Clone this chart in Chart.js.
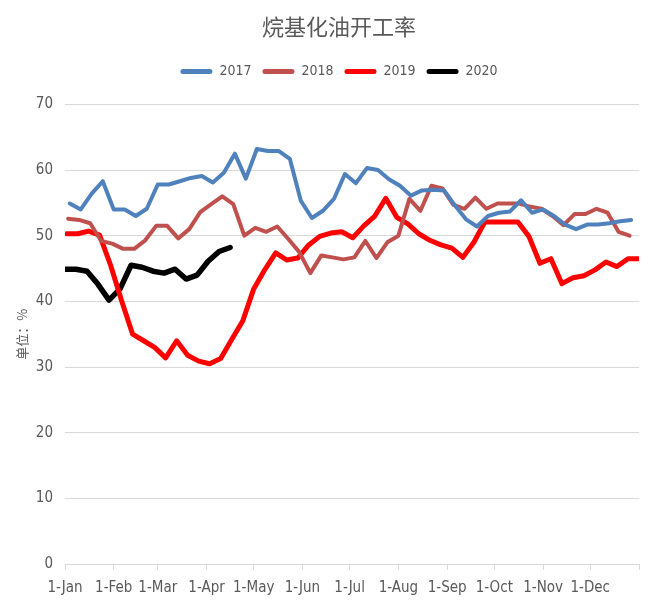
<!DOCTYPE html>
<html>
<head>
<meta charset="utf-8">
<script src="https://cdn.jsdelivr.net/npm/chart.js@4"></script>
<style>
  html, body { margin: 0; padding: 0; background: #fff; }
</style>
</head>
<body>
<canvas id="myChart" width="648" height="601"></canvas>
<script>
// month starts (day of year) and their labels
const monthDays = [0, 31, 59, 90, 120, 151, 181, 212, 243, 273, 304, 334, 365];
const monthLabels = ['1-Jan', '1-Feb', '1-Mar', '1-Apr', '1-May', '1-Jun', '1-Jul', '1-Aug', '1-Sep', '1-Oct', '1-Nov', '1-Dec', ''];

const years = ['2017', '2018', '2019', '2020'];
const firstDay = [3, 2, 1, 0]; // day of year of the first weekly reading

// weekly operating rate, %
const rate2017 = [54.9, 54.0, 56.4, 58.3, 54.0, 54.0, 53.0, 54.1, 57.8, 57.8, 58.3, 58.8, 59.1,
  58.1, 59.6, 62.5, 58.7, 63.2, 62.9, 62.9, 61.7, 55.3, 52.7, 53.8, 55.6, 59.4,
  58.0, 60.3, 60.0, 58.6, 57.6, 56.1, 56.9, 57.0, 56.9, 54.6, 52.5, 51.4,
  53.0, 53.5, 53.7, 55.4, 53.5, 54.0, 53.0, 51.7, 51.0, 51.7, 51.7, 51.9, 52.2, 52.4];
const rate2018 = [52.6, 52.4, 51.9, 49.2, 48.8, 48.0, 48.0, 49.3, 51.5, 51.5,
  49.6, 51.0, 53.6, 54.8, 56.0, 54.8, 50.0, 51.2, 50.6, 51.4,
  49.5, 47.5, 44.3, 47.0, 46.7, 46.4, 46.7, 49.2, 46.6, 49.0,
  50.0, 55.6, 53.8, 57.6, 57.2, 54.7, 54.1, 55.8, 54.1, 54.9,
  54.9, 54.9, 54.4, 54.1, 53.0, 51.6, 53.3, 53.3, 54.1, 53.5, 50.6, 50.0];
const rate2019 = [50.3, 50.3, 50.7, 50.1, 45.5, 40.1, 35.0, 34.0, 33.0, 31.4,
  34.0, 31.8, 30.9, 30.5, 31.3, 34.2, 37.0, 41.9, 44.8, 47.4,
  46.3, 46.6, 48.6, 49.9, 50.4, 50.6, 49.7, 51.5, 53.0, 55.7,
  52.8, 51.8, 50.3, 49.3, 48.6, 48.1, 46.7, 49.0, 52.1, 52.1,
  52.1, 52.1, 49.9, 45.8, 46.5, 42.7, 43.6, 43.9, 44.8, 46.0, 45.3, 46.5, 46.5];
const rate2020 = [44.9, 44.9, 44.6, 42.6, 40.2, 41.9, 45.5, 45.2, 44.6, 44.3, 44.9, 43.4, 44.0, 46.1, 47.6, 48.2];

const series = [rate2017, rate2018, rate2019, rate2020];
const colors = ['#4F81BD', '#C0504D', '#FF0000', '#000000'];
const widths = [4, 4, 5, 5.5];

const narrow = "'Liberation Sans Narrow', 'DejaVu Sans Condensed', 'Liberation Sans', sans-serif";
const cjk = "'Noto Sans CJK SC', sans-serif";
const grey = '#595959';

const datasets = series.map((vals, i) => ({
    label: years[i],
    data: vals.map((v, k) => ({ x: firstDay[i] + 7 * k, y: v })),
    borderColor: colors[i],
    backgroundColor: colors[i],
    borderWidth: widths[i],
    pointRadius: 0,
    tension: 0,
    borderJoinStyle: 'round',
    borderCapStyle: 'round'
}));

// extra room under the legend, like the Excel original
const legendGap = {
    id: 'legendGap',
    beforeLayout(chart) {
        const lg = chart.legend;
        if (lg && !lg._gapPatched) {
            const fit = lg.fit;
            lg.fit = function() { fit.call(this); this.height += 16; };
            lg._gapPatched = true;
        }
    }
};

const ctx = document.getElementById('myChart').getContext('2d');

const myChart = new Chart(ctx, {
    type: 'line',
    data: { datasets: datasets },
    plugins: [legendGap],
    options: {
        responsive: false,
        animation: false,
        layout: { padding: { left: 30, right: 0, top: 0, bottom: 0 } },
        plugins: {
            title: {
                display: true,
                text: '烷基化油开工率',
                color: grey,
                font: { family: cjk, size: 22, weight: 'normal' },
                padding: { top: 13, bottom: 14 }
            },
            legend: {
                labels: {
                    color: grey,
                    font: { family: narrow, size: 14 },
                    boxWidth: 32,
                    boxHeight: 5,
                    useBorderRadius: true,
                    borderRadius: 2.5,
                    padding: 11,
                    generateLabels: function(chart) {
                        const items = Chart.defaults.plugins.legend.labels.generateLabels(chart);
                        return items.map(it => {
                            it.lineWidth = 0;
                            it.fillStyle = it.strokeStyle;
                            return it;
                        });
                    }
                }
            },
            tooltip: { enabled: false }
        },
        scales: {
            x: {
                type: 'linear',
                min: 0,
                max: 365,
                afterBuildTicks: function(axis) {
                    axis.ticks = monthDays.map(d => ({ value: d }));
                },
                afterFit: function(axis) { axis.height = 37; },
                ticks: {
                    autoSkip: false,
                    maxRotation: 0,
                    color: grey,
                    font: { family: narrow, size: 15 },
                    padding: 9,
                    callback: function(value, index) { return monthLabels[index]; }
                },
                grid: {
                    drawOnChartArea: false,
                    drawTicks: true,
                    tickLength: 6,
                    color: '#D9D9D9'
                },
                border: { display: true, color: '#D9D9D9' }
            },
            y: {
                min: 0,
                max: 70,
                afterFit: function(axis) { axis.width = 35; },
                ticks: {
                    stepSize: 10,
                    color: grey,
                    font: { family: narrow, size: 15 },
                    padding: 12
                },
                grid: { color: '#D9D9D9', drawTicks: false },
                border: { display: false },
                title: {
                    display: true,
                    text: '单位：%',
                    color: grey,
                    font: { family: cjk, size: 13 },
                    padding: { top: -16, bottom: 0 }
                }
            }
        }
    }
});
</script>
</body>
</html>
